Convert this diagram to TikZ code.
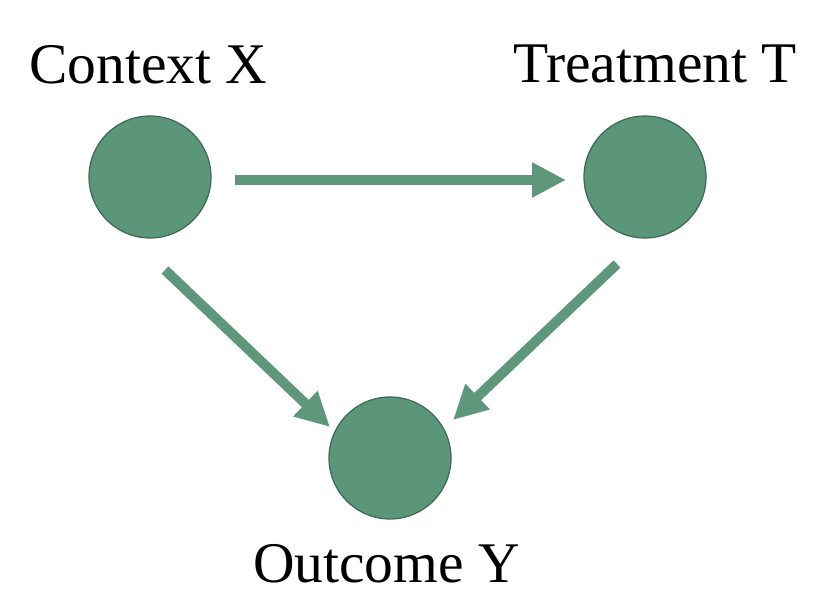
\documentclass[tikz,border=0pt]{standalone}
\usepackage{fontspec}
\setmainfont{Liberation Serif}
\usetikzlibrary{arrows.meta}

\definecolor{nodegreen}{RGB}{92,150,122}
\definecolor{edgegreen}{RGB}{60,104,82}
\definecolor{arrowgreen}{RGB}{94,151,124}

\begin{document}
\begin{tikzpicture}[
    x=1pt, y=1pt,
    var/.style={circle, fill=nodegreen, draw=edgegreen, line width=1.2pt, minimum size=122pt, inner sep=0pt},
    label/.style={anchor=base, font=\fontsize{57.5}{60}\selectfont},
    link/.style={-{Triangle[length=34pt, width=33pt]}, line width=10pt, draw=arrowgreen}
]
    \useasboundingbox (0,0) rectangle (826,612);

    % Variables
    \node[var] (X) at (150,435) {};
    \node[var] (T) at (645,435) {};
    \node[var] (Y) at (390,154) {};

    % Labels
    \node[label] (lx) at (148.5,528) {Context X};
    \node[label] (lt) at (655,529) {Treatment T};
    \node[label] (ly) at (386.5,29) {Outcome Y};

    % Arrow ends
    \coordinate (xt0) at ([shift={(85,-3)}]X.center);
    \coordinate (xt1) at ([shift={(-79,-3)}]T.center);
    \coordinate (xy0) at ([shift={(15,-93)}]X.center);
    \coordinate (xy1) at ([shift={(-60,31)}]Y.center);
    \coordinate (ty0) at ([shift={(-28,-87)}]T.center);
    \coordinate (ty1) at ([shift={(63,38)}]Y.center);

    % Edges
    \draw[link] (xt0) -- (xt1);
    \draw[link] (xy0) -- (xy1);
    \draw[link] (ty0) -- (ty1);

\end{tikzpicture}
\end{document}
